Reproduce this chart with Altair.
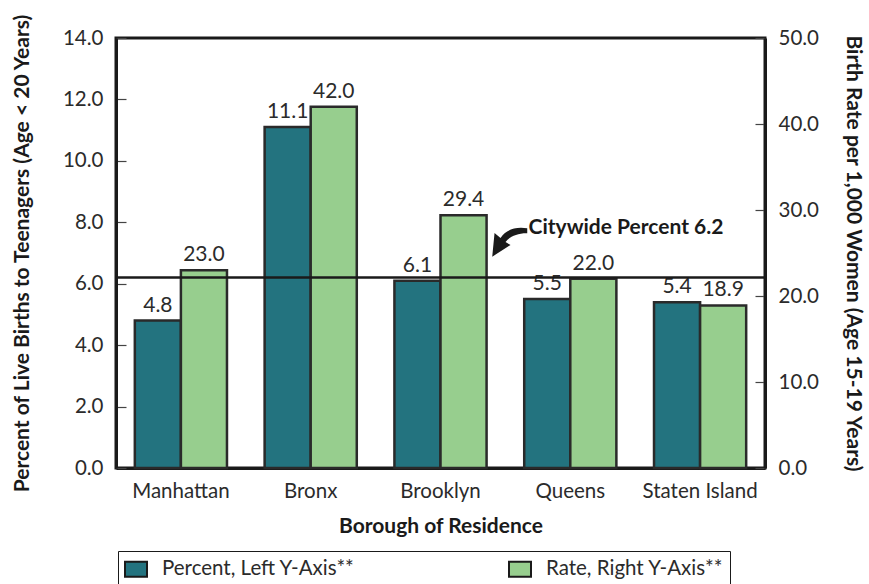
import altair as alt
import pandas as pd

# --- data -------------------------------------------------------------
boroughs = ["Manhattan", "Bronx", "Brooklyn", "Queens", "Staten Island"]
percent_values = [4.8, 11.1, 6.1, 5.5, 5.4]        # % of live births to teens (left axis)
rate_values = [23.0, 42.0, 29.4, 22.0, 18.9]       # births per 1,000 women 15-19 (right axis)
series_names = ["Percent, Left Y-Axis**", "Rate, Right Y-Axis**"]
series_colors = ["#23737f", "#97ce8e"]
citywide_percent = 6.2
citywide_label = "Citywide Percent 6.2"

FONT = "Lato"
INK = "#1a1a1a"
TEXT = "#2b2b2b"

pct_df = pd.DataFrame({"borough": boroughs, "series": series_names[0], "value": percent_values})
rate_df = pd.DataFrame({"borough": boroughs, "series": series_names[1], "value": rate_values})
note_df = pd.DataFrame({
    "borough": ["Brooklyn"],
    "series": [series_names[1]],
    "value": [citywide_percent],
    "label": [citywide_label],
})

# --- shared encodings -------------------------------------------------
x_enc = alt.X(
    "borough:N",
    sort=boroughs,
    scale=alt.Scale(paddingInner=0.29, paddingOuter=0.145),
    axis=alt.Axis(
        title="Borough of Residence",
        labelAngle=0,
        ticks=False,
        labelPadding=13,
        titlePadding=14,
        labelFontSize=20.5,
        labelColor=TEXT,
        titleFontSize=21,
        titleFontWeight="bold",
        titleColor=INK,
        domainColor=INK,
        domainWidth=3,
    ),
)
xoff_enc = alt.XOffset(
    "series:N", scale=alt.Scale(domain=series_names, paddingInner=0, paddingOuter=0)
)
# legend swatch: a wide rectangle
swatch = "M -1 -0.68 L 1 -0.68 L 1 0.68 L -1 0.68 Z"
color_enc = alt.Color(
    "series:N",
    scale=alt.Scale(domain=series_names, range=series_colors),
    legend=alt.Legend(
        title=None,
        orient="none",
        legendX=2,
        legendY=513,
        direction="horizontal",
        columns=2,
        gridAlign="all",
        columnPadding=150,
        symbolType=swatch,
        symbolSize=484,
        symbolStrokeColor=INK,
        symbolStrokeWidth=2,
        labelFontSize=20.5,
        labelColor=TEXT,
        labelOffset=14,
        labelLimit=400,
        padding=6,
        strokeColor=INK,
    ),
)


def y_axis(orient, title, title_x):
    return alt.Axis(
        orient=orient,
        title=title,
        format=".1f",
        tickCount=8 if orient == "left" else 6,
        grid=False,
        tickSize=alt.ExprRef("-10"),
        tickColor="#444444",
        tickWidth=1.2,
        labelPadding=23,
        labelFontSize=20.5,
        labelColor=TEXT,
        domainColor=INK,
        domainWidth=3,
        titleFontSize=21,
        titleFontWeight="bold",
        titleColor=INK,
        titleX=title_x,
        titleY=215,
        titleBaseline="alphabetic",
    )


bar_style = dict(stroke="#2a2a2a", strokeWidth=2.5)
label_style = dict(fontSize=21, color=TEXT, baseline="alphabetic", dy=-9)

# --- left scale: percent bars ----------------------------------------
y_left = alt.Y(
    "value:Q",
    scale=alt.Scale(domain=[0, 14]),
    axis=y_axis("left", "Percent of Live Births to Teenagers (Age < 20 Years)", -88),
)
left_bars = alt.Chart(pct_df).mark_bar(**bar_style).encode(
    x=x_enc, xOffset=xoff_enc, y=y_left, color=color_enc
)
left_text = alt.Chart(pct_df).mark_text(**label_style).encode(
    x=x_enc, xOffset=xoff_enc, y=y_left, text=alt.Text("value:Q", format=".1f")
)
left_layer = alt.layer(left_bars, left_text)

# --- right scale: rate bars --------------------------------------------
y_right = alt.Y(
    "value:Q",
    scale=alt.Scale(domain=[0, 50]),
    axis=y_axis("right", "Birth Rate per 1,000 Women (Age 15-19 Years)", 81),
)
right_bars = alt.Chart(rate_df).mark_bar(**bar_style).encode(
    x=x_enc, xOffset=xoff_enc, y=y_right, color=color_enc
)
right_text = alt.Chart(rate_df).mark_text(**label_style).encode(
    x=x_enc, xOffset=xoff_enc, y=y_right, text=alt.Text("value:Q", format=".1f")
)
right_layer = alt.layer(right_bars, right_text)

# --- citywide reference line + callout (percent scale, no axis) ------
y_note = alt.Y("value:Q", scale=alt.Scale(domain=[0, 14]), axis=None)
city_rule = alt.Chart(note_df).mark_rule(color=INK, strokeWidth=2.5).encode(y=y_note)
arrow_path = (
    "M 3.640 -2.817 C 2.971 -2.943 2.4 -2.714 2.114 -2.263 "
    "L 1.771 -2.549 L 1.640 -1.194 L 2.686 -1.863 L 2.4 -2.034 "
    "C 2.629 -2.343 3.086 -2.543 3.640 -2.531 Z"
)
city_arrow = alt.Chart(note_df).mark_point(
    shape=arrow_path, size=1225, filled=True, color=INK, opacity=1, strokeWidth=0
).encode(x=x_enc, xOffset=xoff_enc, y=y_note)
city_text = alt.Chart(note_df).mark_text(
    align="left", baseline="middle", dx=65, dy=-50,
    fontSize=21, fontWeight="bold", color=INK,
).encode(x=x_enc, xOffset=xoff_enc, y=y_note, text="label:N")
note_layer = alt.layer(city_rule, city_arrow, city_text)

chart = (
    alt.layer(left_layer, right_layer, note_layer)
    .resolve_scale(y="independent")
    .properties(
        width=649,
        height=430,
        autosize=alt.AutoSizeParams(type="none"),
        padding={"left": 116, "top": 38, "right": 104, "bottom": 116},
        background="white",
    )
    .configure(font=FONT)
    .configure_view(stroke=INK, strokeWidth=3)
)

chart.save("out.html", embed_options={"renderer": "svg", "actions": False})
